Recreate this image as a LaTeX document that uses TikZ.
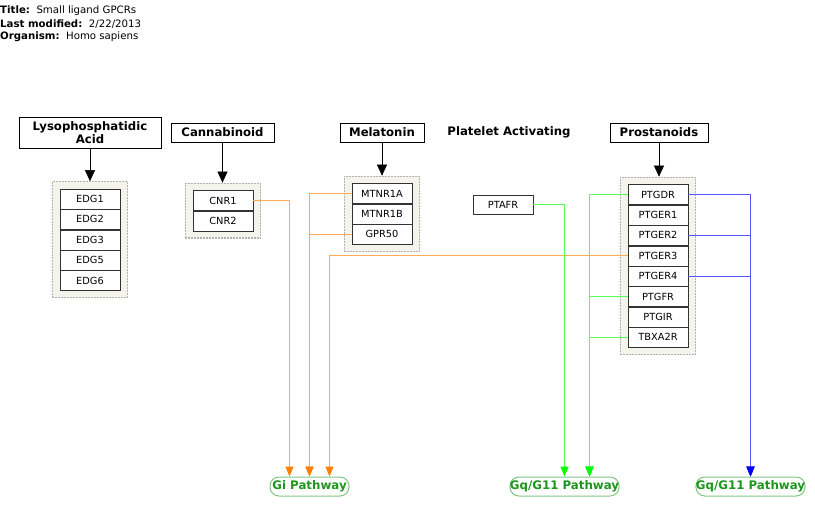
\documentclass[tikz,border=0pt]{standalone}
\usepackage{fontspec}
\setmainfont{DejaVu Sans}
\usetikzlibrary{positioning}
\usetikzlibrary{fit}
\usetikzlibrary{backgrounds}
\usetikzlibrary{arrows.meta}

\definecolor{giorange}{HTML}{FF8000}
\definecolor{gqgreen}{HTML}{00FF00}
\definecolor{gqblue}{HTML}{0000FF}
\definecolor{gilight}{HTML}{FFAA55}
\definecolor{gqlight}{HTML}{55FF55}
\definecolor{blulight}{HTML}{5555FF}
\definecolor{pathwaygreen}{HTML}{1E961E}
\definecolor{groupfill}{HTML}{F4F4EC}

\begin{document}
\begin{tikzpicture}[x=1pt, y=-1pt,
                    ligandbox/.style={rectangle, draw, fill=white, font=\fontsize{11.7}{13}\selectfont\bfseries, minimum height=19pt, inner xsep=9pt, inner ysep=2pt},
                    ligandlabel/.style={font=\fontsize{11.7}{13}\selectfont\bfseries},
                    genebox/.style={rectangle, draw=black!80, fill=white, minimum width=60pt, minimum height=20pt, inner sep=0pt, font=\fontsize{9.8}{10}\selectfont},
                    groupbox/.style={rectangle, draw=black!30, dash pattern=on 2pt off 1pt, line width=1.3pt, fill=groupfill, inner xsep=7.5pt, inner ysep=7pt},
                    pathwaybox/.style={rectangle, rounded corners=9pt, draw=pathwaygreen!55, line width=1pt, fill=white, minimum height=19pt, inner sep=0pt, text=pathwaygreen, font=\fontsize{11.8}{13}\selectfont\bfseries},
                    ligandarrow/.style={-{Triangle[width=10pt, length=11pt]}, black},
                    giline/.style={-{Triangle[width=8pt, length=10pt, color=giorange]}, line width=1.2pt, draw=gilight},
                    gqline/.style={-{Triangle[width=8pt, length=10pt, color=gqgreen]}, line width=1.2pt, draw=gqlight},
                    bluline/.style={-{Triangle[width=8pt, length=10pt, color=gqblue]}, line width=1.2pt, draw=blulight},
                   ]
  \useasboundingbox (0,0) rectangle (815,511);

  %Header
  \node[anchor=west, inner sep=0pt, font=\fontsize{10.2}{11}\selectfont] (title)    at (0,11) {\textbf{Title:}\ \ Small ligand GPCRs};
  \node[anchor=west, inner sep=0pt, font=\fontsize{10.2}{11}\selectfont] (modified) at (0,24) {\textbf{Last modified:}\ \ 2/22/2013};
  \node[anchor=west, inner sep=0pt, font=\fontsize{10.2}{11}\selectfont] (organism) at (0,37) {\textbf{Organism:}\ \ Homo sapiens};

  %Ligands
  \node[ligandbox, align=center, minimum width=142pt, minimum height=31pt] (lpa) at (90,132.5) {Lysophosphatidic\\Acid};
  \node[ligandbox, minimum width=103pt] (cannabinoid) at (222.5,132.5) {Cannabinoid};
  \node[ligandbox, minimum width=78pt]  (melatonin)   at (382,132.5)   {Melatonin};
  \node[ligandlabel]                    (platelet)    at (509,132.5)   {Platelet Activating};
  \node[ligandbox, minimum width=98pt]  (prostanoids) at (659,132.5)   {Prostanoids};

  %Receptors
  \node[genebox]                         (EDG1)   at (90,199)    {EDG1};
  \node[genebox, below=0pt of EDG1]      (EDG2)                  {EDG2};
  \node[genebox, below=0pt of EDG2]      (EDG3)                  {EDG3};
  \node[genebox, below=0pt of EDG3]      (EDG5)                  {EDG5};
  \node[genebox, below=0pt of EDG5]      (EDG6)                  {EDG6};

  \node[genebox]                         (CNR1)   at (223,200.5) {CNR1};
  \node[genebox, below=0pt of CNR1]      (CNR2)                  {CNR2};

  \node[genebox]                         (MTNR1A) at (382,193.5) {MTNR1A};
  \node[genebox, below=0pt of MTNR1A]    (MTNR1B)                {MTNR1B};
  \node[genebox, below=0pt of MTNR1B]    (GPR50)                 {GPR50};

  \node[genebox, minimum height=19pt]    (PTAFR)  at (503,204.5) {PTAFR};

  \node[genebox]                         (PTGDR)  at (658,194.5) {PTGDR};
  \node[genebox, below=0pt of PTGDR]     (PTGER1)                {PTGER1};
  \node[genebox, below=0pt of PTGER1]    (PTGER2)                {PTGER2};
  \node[genebox, below=0pt of PTGER2]    (PTGER3)                {PTGER3};
  \node[genebox, below=0pt of PTGER3]    (PTGER4)                {PTGER4};
  \node[genebox, below=0pt of PTGER4]    (PTGFR)                 {PTGFR};
  \node[genebox, below=0pt of PTGFR]     (PTGIR)                 {PTGIR};
  \node[genebox, below=0pt of PTGIR]     (TBXA2R)                {TBXA2R};

  %Groups
  \begin{scope}[on background layer]
    \node[groupbox, fit=(EDG1)(EDG6)]     (edggroup)  {};
    \node[groupbox, fit=(CNR1)(CNR2)]     (cnrgroup)  {};
    \node[groupbox, fit=(MTNR1A)(GPR50)]  (mtnrgroup) {};
    \node[groupbox, fit=(PTGDR)(TBXA2R)]  (ptgroup)   {};
  \end{scope}

  %Pathways
  \node[pathwaybox, minimum width=79pt]  (gi)  at (309.5,486.5) {Gi Pathway};
  \node[pathwaybox, minimum width=102pt] (gqa) at (564.5,486.5) {Gq/G11 Pathway};
  \node[pathwaybox, minimum width=102pt] (gqb) at (750.5,486.5) {Gq/G11 Pathway};

  %Lines
  \draw[ligandarrow] (lpa.south) -- (lpa.south |- edggroup.north);
  \draw[ligandarrow] (cannabinoid.south) -- (cannabinoid.south |- cnrgroup.north);
  \draw[ligandarrow] (melatonin.south) -- (melatonin.south |- mtnrgroup.north);
  \draw[ligandarrow] (prostanoids.south) -- (prostanoids.south |- ptgroup.north);

  \draw[giline] (CNR1.east) -| ([xshift=-20pt]gi.north);
  \draw[giline] (MTNR1A.west) -| (gi.north);
  \draw[giline] (GPR50.west) -| (gi.north);
  \draw[giline] (PTGER3.west) -| ([xshift=20pt]gi.north);

  \draw[gqline] (PTAFR.east) -| (gqa.north);
  \draw[gqline] (PTGDR.west) -| ([xshift=25pt]gqa.north);
  \draw[gqline] (PTGFR.west) -| ([xshift=25pt]gqa.north);
  \draw[gqline] (TBXA2R.west) -| ([xshift=25pt]gqa.north);

  \draw[bluline] (PTGDR.east) -| (gqb.north);
  \draw[bluline] (PTGER2.east) -| (gqb.north);
  \draw[bluline] (PTGER4.east) -| (gqb.north);
\end{tikzpicture}
\end{document}
